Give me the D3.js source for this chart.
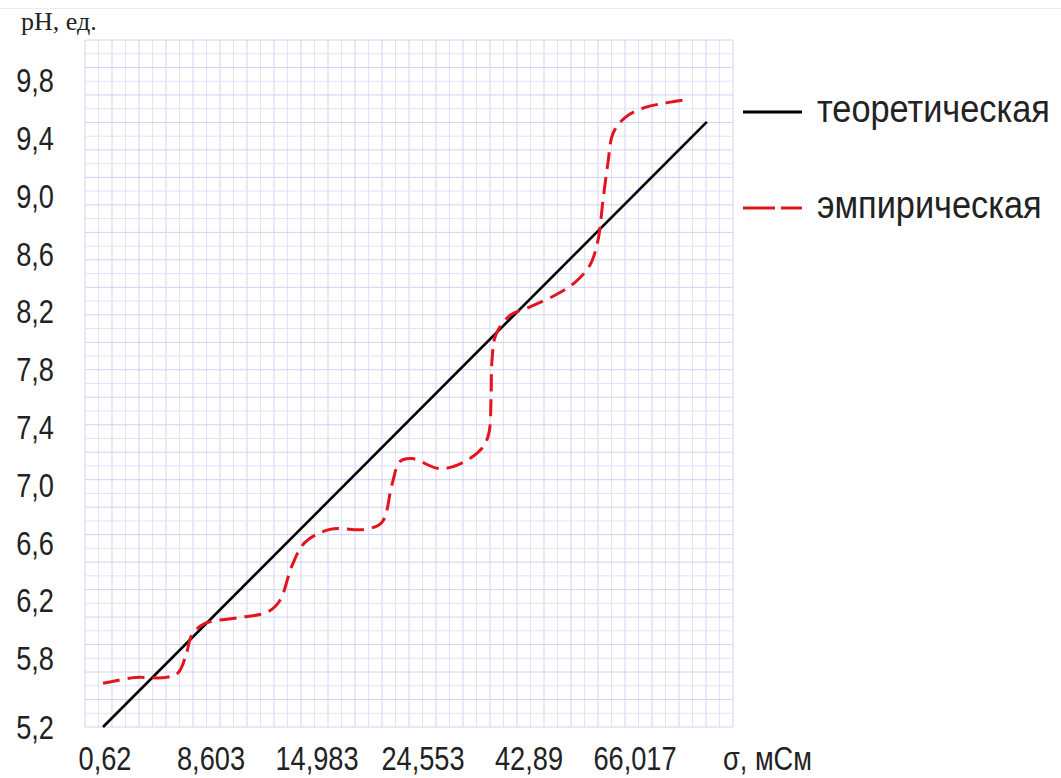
<!DOCTYPE html>
<html>
<head>
<meta charset="utf-8">
<script src="https://cdnjs.cloudflare.com/ajax/libs/d3/7.8.5/d3.min.js"></script>
<style>
	body { margin: 0; background: #fff; }
	text { fill: #222; }
	.tick-label { font-family: "Liberation Sans", Arial, sans-serif; font-size: 34px; }
	.legend-label { font-family: "Liberation Sans", Arial, sans-serif; font-size: 38px; }
	.axis-title { font-family: "Liberation Serif", serif; font-size: 26px; }
</style>
</head>
<body>
<div id="container"></div>
<script>
// tick values and labels (as printed on the chart)
var sigmaTicks = [0.62, 8.603, 14.983, 24.553, 42.89, 66.017];
var sigmaLabels = ["0,62", "8,603", "14,983", "24,553", "42,89", "66,017"];
var phTicks = [5.2, 5.8, 6.2, 6.6, 7.0, 7.4, 7.8, 8.2, 8.6, 9.0, 9.4, 9.8];
var phLabels = ["5,2", "5,8", "6,2", "6,6", "7,0", "7,4", "7,8", "8,2", "8,6", "9,0", "9,4", "9,8"];

// theoretical line, sigma / pH
var theorSigma = [0.47, 81.7];
var theorPh = [5.2, 9.51];

// empirical curve, sigma / pH
var empSigma = [0.47, 2.88, 5.14, 6.12, 6.72, 7.17, 8.15, 10.35, 12.03, 12.76, 13.48, 14.26,
	16.16, 19.32, 20.85, 21.75, 22.48, 23.56, 27.49, 31.82, 34.93, 35.97, 36.32, 36.49, 37.18,
	39.60, 43.11, 48.56, 52.93, 56.20, 57.94, 59.04, 60.13, 61.22, 63.84, 68.20, 72.56, 76.49];
var empPh = [5.58, 5.63, 5.63, 5.67, 5.82, 5.96, 6.04, 6.08, 6.12, 6.20, 6.44, 6.60,
	6.69, 6.69, 6.74, 7.00, 7.16, 7.18, 7.11, 7.16, 7.26, 7.36, 7.59, 7.86, 8.04,
	8.17, 8.23, 8.31, 8.40, 8.52, 8.69, 8.97, 9.23, 9.43, 9.54, 9.61, 9.64, 9.66];

var legendNames = ["теоретическая", "эмпирическая"];

var WIDTH = 1061;
var HEIGHT = 778;
var NARROW = 0.8; // squeeze Liberation Sans to look like a narrow drafting font
var grid = { left: 85, right: 733, top: 40, bottom: 727, cols: 48, rows: 50 };

var svg = d3.select("#container").append("svg")
	.attr("width", WIDTH)
	.attr("height", HEIGHT);

// x: labels evenly spaced, sigma mapped piecewise between them
var xPoint = d3.scalePoint().domain(sigmaLabels).range([105, 635]);
var x = d3.scaleLinear()
	.domain(sigmaTicks)
	.range(sigmaLabels.map(function(l) { return xPoint(l); }));

// y: 5,8..9,8 evenly spaced, 5,2 sits at the bottom of the grid
var yTop = d3.scaleLinear().domain([5.8, 9.8]).range([658, 80]);
var y = d3.scaleLinear()
	.domain([5.2, 5.8, 9.8])
	.range([grid.bottom, yTop(5.8), yTop(9.8)]);

// faint rule along the top
svg.append("line")
	.attr("x1", 0).attr("x2", WIDTH)
	.attr("y1", 8.5).attr("y2", 8.5)
	.style("stroke", "#ededed");

drawGrid();
drawAxes();
drawLines();
drawLegend();

function place(px, py, sx){
	return "translate(" + px + "," + py + ") scale(" + sx + ",1)";
}

function drawGrid(){
	var g = svg.append("g");
	var gx = d3.scaleLinear().domain([0, grid.cols]).range([grid.left, grid.right]);
	var gy = d3.scaleLinear().domain([0, grid.rows]).range([grid.top, grid.bottom]);

	g.selectAll(".vl").data(d3.range(grid.cols + 1)).enter().append("line")
		.attr("x1", function(d) { return gx(d); })
		.attr("x2", function(d) { return gx(d); })
		.attr("y1", grid.top).attr("y2", grid.bottom)
		.style("stroke", function(d) { return d % 2 ? "#e2e2f8" : "#d2d2f4"; })
		.style("stroke-width", 1);

	g.selectAll(".hl").data(d3.range(grid.rows + 1)).enter().append("line")
		.attr("y1", function(d) { return gy(d); })
		.attr("y2", function(d) { return gy(d); })
		.attr("x1", grid.left).attr("x2", grid.right)
		.style("stroke", function(d) { return d % 2 ? "#e2e2f8" : "#d2d2f4"; })
		.style("stroke-width", 1);
}

function drawAxes(){
	svg.selectAll(".ylab").data(phTicks).enter().append("text")
		.attr("class", "tick-label")
		.attr("transform", function(d) { return place(54, y(d), NARROW); })
		.attr("dy", "0.36em")
		.attr("text-anchor", "end")
		.text(function(d, i) { return phLabels[i]; });

	svg.selectAll(".xlab").data(sigmaLabels).enter().append("text")
		.attr("class", "tick-label")
		.attr("transform", function(d) { return place(xPoint(d), 770, NARROW); })
		.attr("text-anchor", "middle")
		.text(function(d) { return d; });

	svg.append("text")
		.attr("class", "tick-label")
		.attr("transform", place(723, 770, NARROW))
		.text("σ, мСм");

	svg.append("text")
		.attr("class", "axis-title")
		.attr("x", 21)
		.attr("y", 30)
		.text("pH, ед.");
}

function drawLines(){
	var theor = theorSigma.map(function(s, i) { return [s, theorPh[i]]; });
	var emp = empSigma.map(function(s, i) { return [s, empPh[i]]; });

	var line = d3.line()
		.x(function(d) { return x(d[0]); })
		.y(function(d) { return y(d[1]); });

	svg.append("path")
		.datum(theor)
		.attr("d", line)
		.style("fill", "none")
		.style("stroke", "#000")
		.style("stroke-width", 2.6);

	svg.append("path")
		.datum(emp)
		.attr("d", line.curve(d3.curveCatmullRom.alpha(0.5)))
		.style("fill", "none")
		.style("stroke", "#e3141c")
		.style("stroke-width", 3)
		.style("stroke-dasharray", "17,8");
}

function drawLegend(){
	var rows = [
		{ name: legendNames[0], y: 112, color: "#000", dash: null },
		{ name: legendNames[1], y: 208, color: "#e3141c", dash: "32,6" }
	];

	var items = svg.selectAll(".legend").data(rows).enter().append("g");

	items.append("line")
		.attr("x1", 743).attr("x2", 802)
		.attr("y1", function(d) { return d.y; })
		.attr("y2", function(d) { return d.y; })
		.style("stroke", function(d) { return d.color; })
		.style("stroke-width", 3)
		.style("stroke-dasharray", function(d) { return d.dash; });

	var labels = items.append("text")
		.attr("class", "legend-label")
		.text(function(d) { return d.name; });

	// fit the first label to the width it has in the picture, same squeeze for both
	var w = labels.node().getComputedTextLength();
	var sx = Math.min(1, 233 / w);
	labels.attr("transform", function(d) { return place(817, d.y + 10, sx); });
}
</script>
</body>
</html>
